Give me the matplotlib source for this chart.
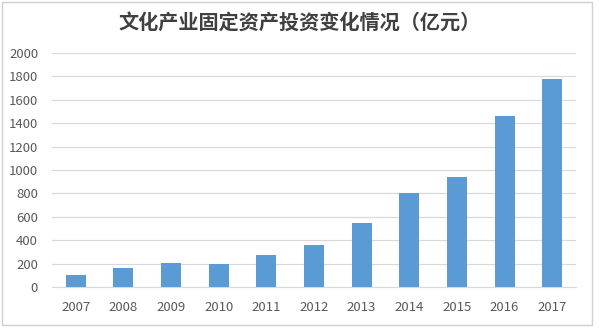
import matplotlib.pyplot as plt
from matplotlib.patches import Rectangle

plt.rcParams['font.family'] = ['Noto Sans CJK SC', 'DejaVu Sans']

years = ['2007', '2008', '2009', '2010', '2011', '2012',
         '2013', '2014', '2015', '2016', '2017']
invest = [105, 162, 208, 193, 276, 362, 550, 806, 943, 1462, 1780]
yticks = [0, 200, 400, 600, 800, 1000, 1200, 1400, 1600, 1800, 2000]

fig = plt.figure(figsize=(6, 3.29), dpi=100)
ax = fig.add_axes([52 / 600, 1 - 287 / 329, 524 / 600, 234 / 329])

ax.bar(range(len(years)), invest, width=0.42, color='#5b9bd5', zorder=3)

ax.set_xlim(-0.5, len(years) - 0.5)
ax.set_ylim(0, 2000)
ax.set_yticks(yticks)
ax.set_xticks(range(len(years)))
ax.set_xticklabels(years)
ax.grid(axis='y', color='#d9d9d9', linewidth=0.9, zorder=0)
for s in ['top', 'right', 'left']:
    ax.spines[s].set_visible(False)
ax.spines['bottom'].set_color('#d9d9d9')
ax.tick_params(length=0, labelsize=9.5, colors='#595959')
ax.tick_params(axis='x', pad=10)
ax.tick_params(axis='y', pad=10)

fig.text(0.5, 1 - 22 / 329, '文化产业固定资产投资变化情况（亿元）',
         ha='center', va='center', fontsize=14.5, color='#404040',
         fontweight='bold')

# outer frame of the chart
fig.patches.append(Rectangle((2 / 600, 4 / 329), 590 / 600, 323 / 329,
                             transform=fig.transFigure, fill=False,
                             edgecolor='#d0d0d0', linewidth=1))

fig.savefig('out.png', dpi=100)
